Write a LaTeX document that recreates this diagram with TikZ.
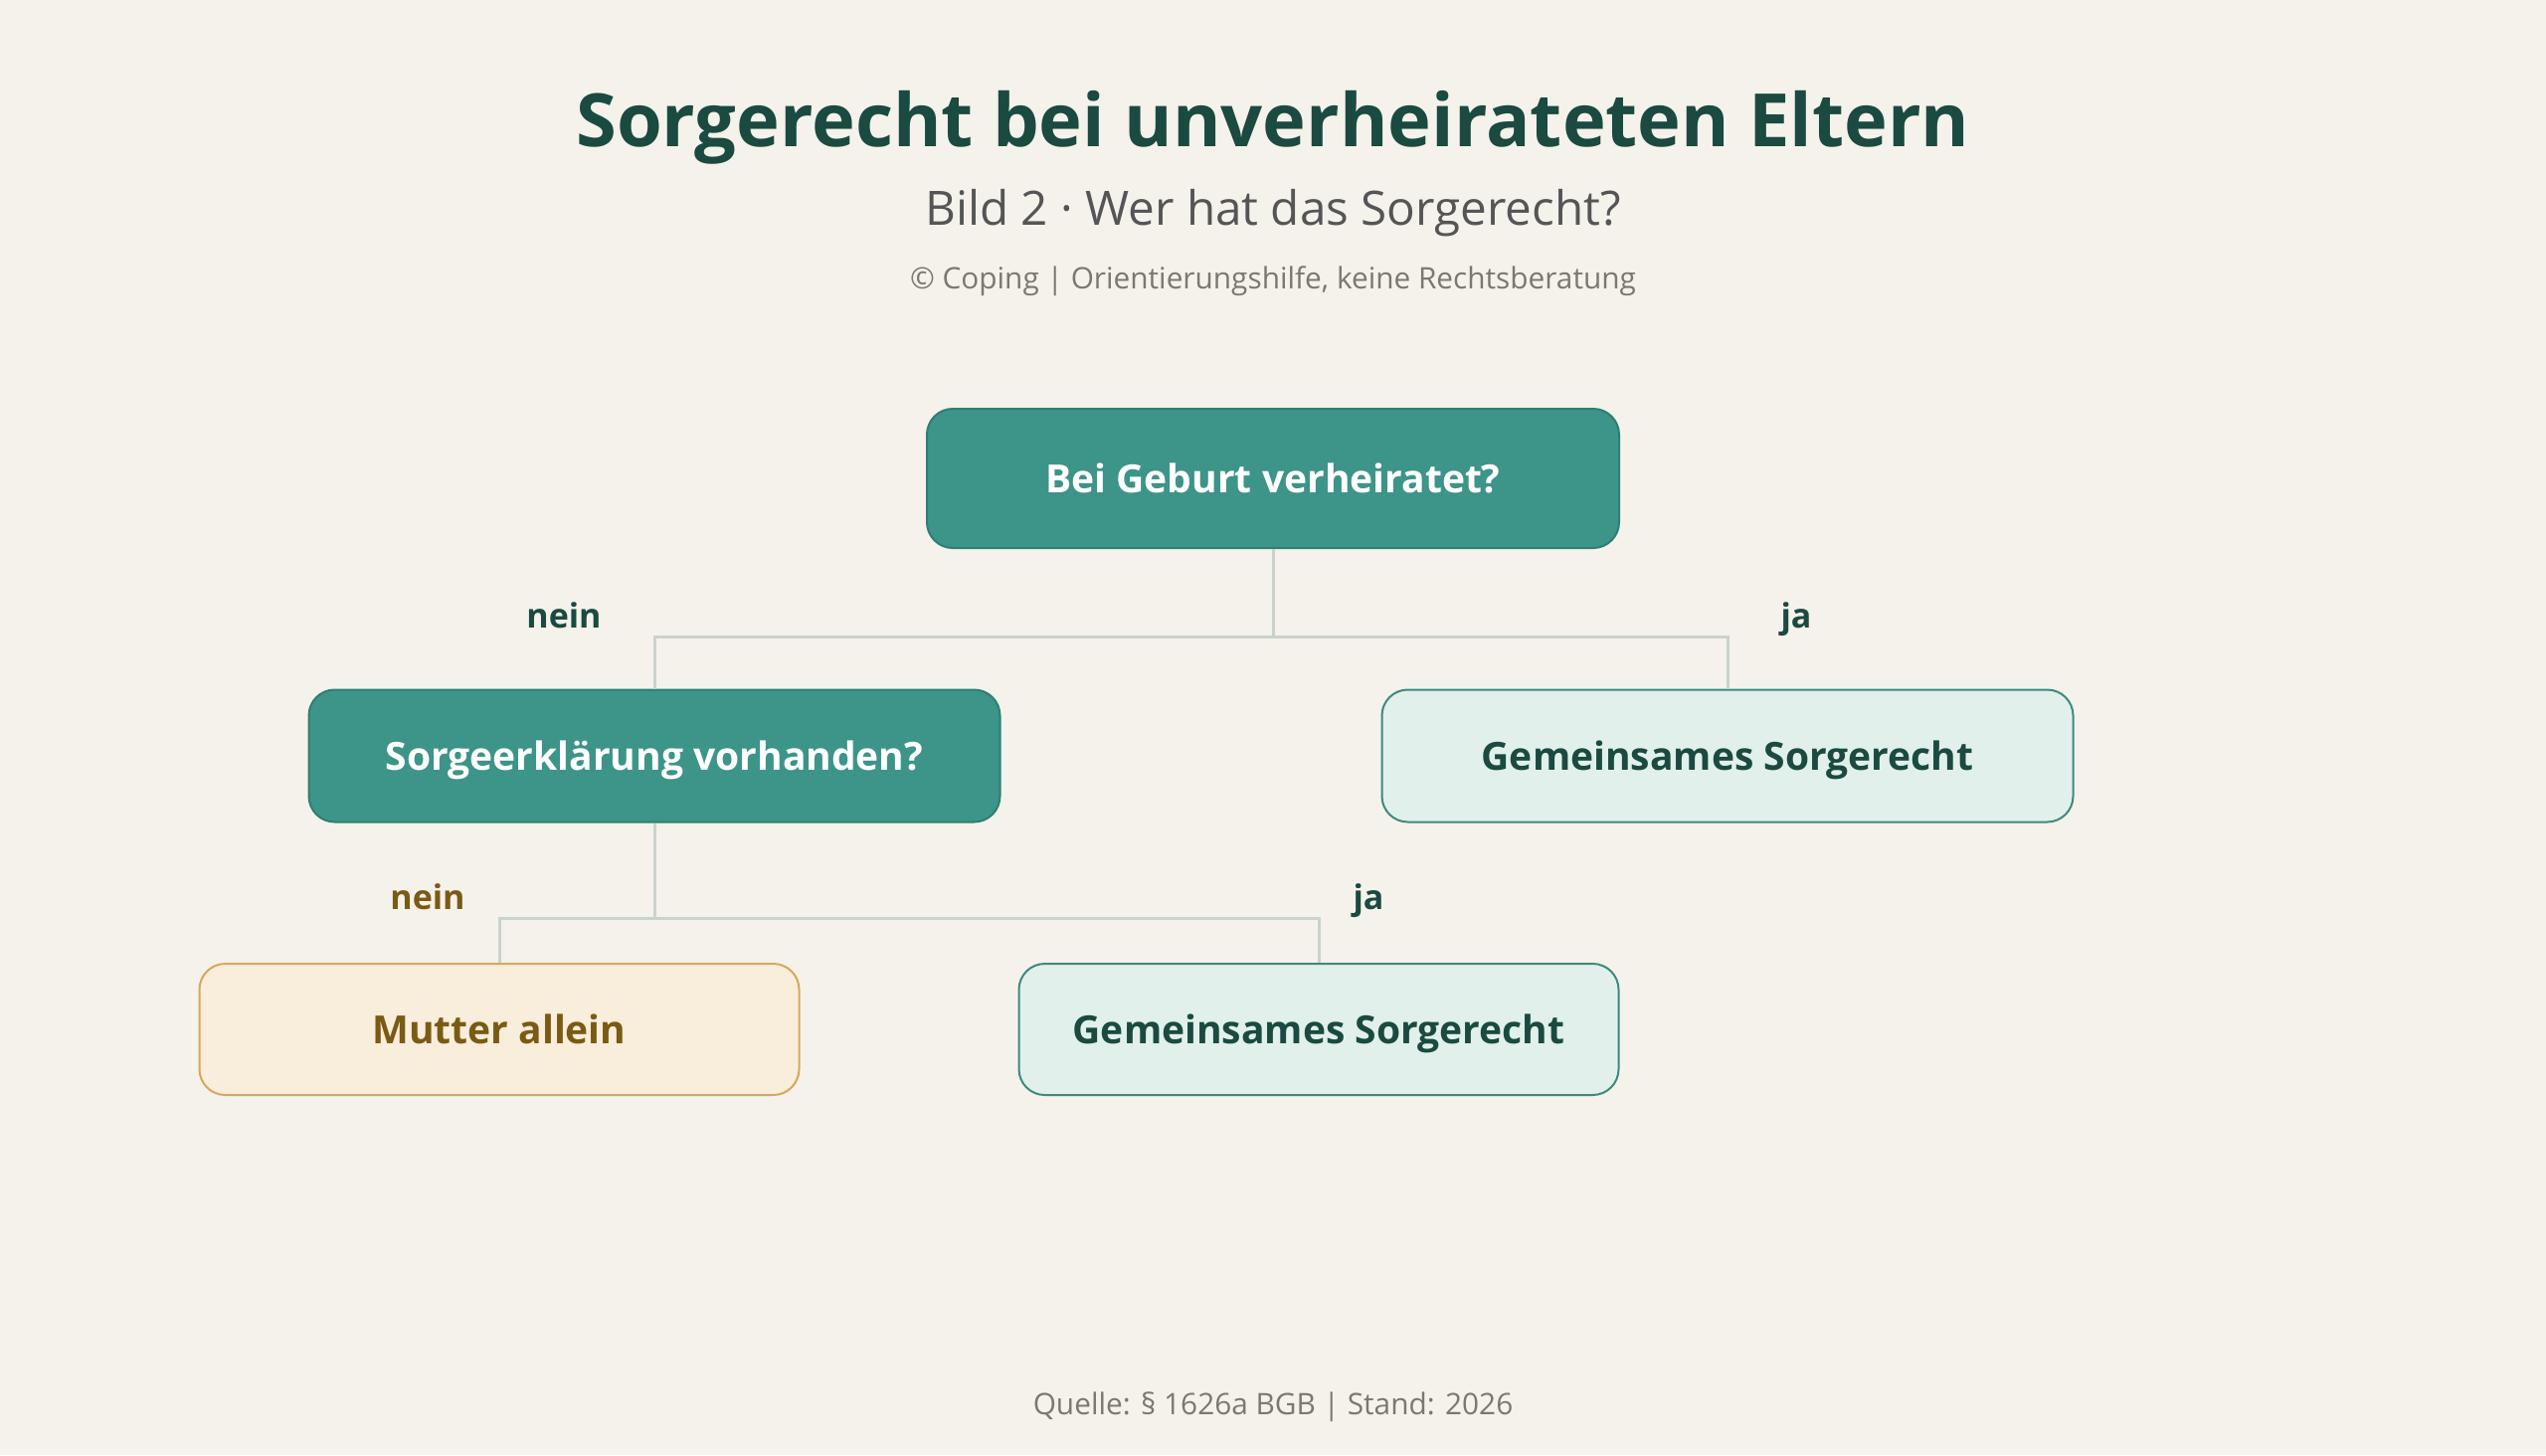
\documentclass[tikz,border=0pt]{standalone}
\usepackage{fontspec}
\setmainfont{Open Sans}
\definecolor{bg}{HTML}{F5F2EB}
\definecolor{titlec}{HTML}{1A4A40}
\definecolor{subc}{HTML}{555555}
\definecolor{capc}{HTML}{7A7870}
\definecolor{tealf}{HTML}{3D9488}
\definecolor{teald}{HTML}{2E7F72}
\definecolor{lightf}{HTML}{E1F0EB}
\definecolor{lightd}{HTML}{3D8A7E}
\definecolor{warmf}{HTML}{F9EDDB}
\definecolor{warmd}{HTML}{D4AA5A}
\definecolor{warmt}{HTML}{7A5A14}
\definecolor{linec}{HTML}{C9D3CE}
\tikzset{
  box/.style={rounded corners=13pt, line width=1pt, inner sep=0pt, align=center,
    text height=14.5pt, text depth=0pt,
    font=\fontsize{19.5}{23}\selectfont\bfseries},
  qbox/.style={box, fill=tealf, draw=teald, text=white},
  rbox/.style={box, fill=lightf, draw=lightd, text=titlec},
  wbox/.style={box, fill=warmf, draw=warmd, text=warmt},
  conn/.style={draw=linec, line width=1.5pt},
  lbl/.style={font=\fontsize{17}{20}\selectfont\bfseries, inner sep=0pt, anchor=base},
  htext/.style={inner sep=0pt, anchor=base},
}
\begin{document}
\begin{tikzpicture}[x=0.5pt,y=-0.5pt]
\fill[bg] (0,0) rectangle (2560,1463);
\useasboundingbox (0,0) rectangle (2560,1463);
\node[htext, text=titlec, font=\fontsize{37}{44}\selectfont\bfseries] (title) at (1280,147) {Sorgerecht bei unverheirateten Eltern};
\node[htext, text=subc, font=\fontsize{23.8}{28}\selectfont] (sub) at (1280,226) {Bild 2 · Wer hat das Sorgerecht?};
\node[htext, text=capc, font=\fontsize{14.9}{18}\selectfont] (cap) at (1280,290) {© Coping | Orientierungshilfe, keine Rechtsberatung};
\node[qbox, minimum width=348pt, minimum height=70pt] (q1) at (1280,481) {Bei Geburt verheiratet?};
\node[qbox, minimum width=347.5pt, minimum height=66.5pt] (q2) at (658,760) {Sorgeerklärung vorhanden?};
\node[rbox, minimum width=347.5pt, minimum height=66.5pt] (r1) at (1737,760) {Gemeinsames Sorgerecht};
\node[wbox, minimum width=301.5pt, minimum height=66pt] (w1) at (502,1035) {Mutter allein};
\node[rbox, minimum width=301.5pt, minimum height=66pt] (r2) at (1326,1035) {Gemeinsames Sorgerecht};
\coordinate (j1) at (1280,640);
\coordinate (j2) at (658,923);
\draw[conn] (q1.south) -- (j1);
\draw[conn] (j1) -| (q2.north);
\draw[conn] (j1) -| (r1.north);
\draw[conn] (q2.south) -- (j2);
\draw[conn] (j2) -| (w1.north);
\draw[conn] (j2) -| (r2.north);
\node[lbl, text=titlec] (l1) at (567,631) {nein};
\node[lbl, text=titlec] (l2) at (1806,631) {ja};
\node[lbl, text=warmt] (l3) at (430,914) {nein};
\node[lbl, text=titlec] (l4) at (1376,914) {ja};
\node[htext, text=capc, font=\fontsize{14.9}{18}\selectfont] (foot) at (1280,1422) {Quelle: § 1626a BGB | Stand: 2026};
\end{tikzpicture}
\end{document}
